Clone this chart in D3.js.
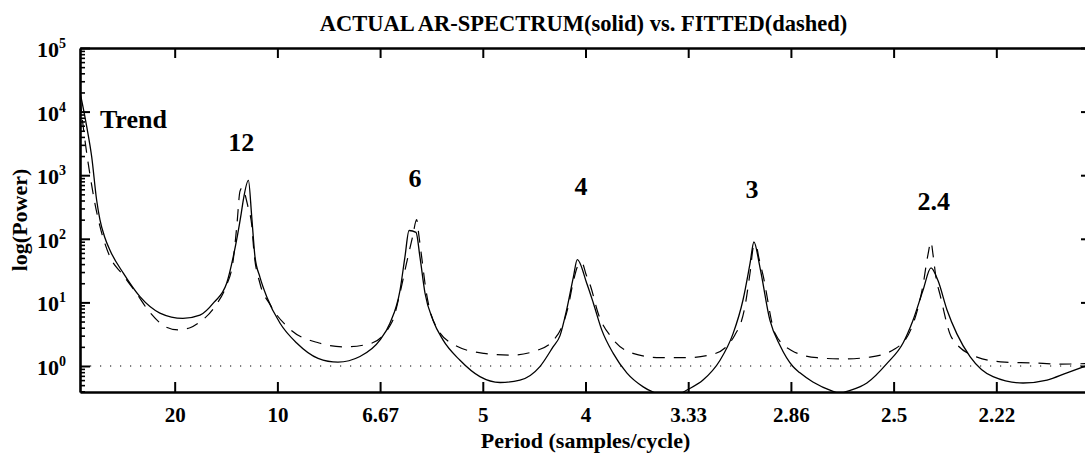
<!DOCTYPE html>
<html>
<head>
<meta charset="utf-8">
<script src="https://cdn.jsdelivr.net/npm/d3@7"></script>
<style>
body { margin: 0; background: #fff; }
svg { display: block; }
text { font-family: "Liberation Serif", "Times New Roman", serif; font-weight: bold; fill: #000; }
</style>
</head>
<body>
<script>
// actual AR spectrum (solid), frequency in cycles/sample
var freqActual = [0.0039, 0.0049, 0.0072, 0.0096, 0.0120, 0.0136, 0.0159, 0.0185, 0.0250, 0.0331,
    0.0428, 0.0540, 0.0623, 0.0691, 0.0753, 0.0785, 0.0824, 0.0834, 0.0859, 0.0875,
    0.0891, 0.0915, 0.0948, 0.1013, 0.1094, 0.1198, 0.1295, 0.1402, 0.1500, 0.1548,
    0.1597, 0.1621, 0.1641, 0.1675, 0.1694, 0.1719, 0.1758, 0.1806, 0.1889, 0.1986,
    0.2084, 0.2181, 0.2278, 0.2342, 0.2376, 0.2408, 0.2441, 0.2460, 0.2506, 0.2538,
    0.2579, 0.2635, 0.2701, 0.2781, 0.2863, 0.2926, 0.2994, 0.3072, 0.3155, 0.3218,
    0.3267, 0.3301, 0.3320, 0.3349, 0.3398, 0.3447, 0.3510, 0.3544, 0.3607, 0.3705,
    0.3739, 0.3773, 0.3870, 0.3968, 0.4046, 0.4094, 0.4143, 0.4182, 0.4216, 0.4260,
    0.4308, 0.4372, 0.4484, 0.4630, 0.4747, 0.4844, 0.4961];
var powerActual = [20000, 14100, 5750, 1950, 407, 200, 107, 66, 28.8, 12.3,
    6.8, 5.6, 6.3, 10, 20, 52, 251, 407, 832, 224,
    52, 25, 12.3, 4.7, 2.3, 1.32, 1.15, 1.41, 2.57, 4.7,
    15.5, 52, 135, 126, 52, 13.8, 5.2, 2.57, 1.23, 0.68,
    0.55, 0.60, 0.98, 2.0, 3.0, 7.6, 25, 47, 20, 9.8,
    3.7, 1.58, 0.78, 0.47, 0.355, 0.33, 0.42, 0.60, 1.23, 3.2,
    11, 41, 89, 36, 5.2, 2.1, 0.98, 0.78, 0.56, 0.40,
    0.37, 0.40, 0.54, 1.1, 2.3, 5.2, 15.5, 35, 22, 7.6,
    3.2, 1.41, 0.68, 0.54, 0.60, 0.78, 1.07];

// fitted spectrum (dashed)
var freqFitted = [0.0039, 0.0063, 0.0088, 0.0112, 0.0136, 0.0185, 0.0244, 0.0308, 0.0380, 0.0458,
    0.0516, 0.0575, 0.0614, 0.0701, 0.0750, 0.0784, 0.0803, 0.0818, 0.0828, 0.0842,
    0.0857, 0.0875, 0.0886, 0.0915, 0.0964, 0.1061, 0.1203, 0.1329, 0.1451, 0.1558,
    0.1597, 0.1629, 0.1658, 0.1678, 0.1689, 0.1703, 0.1723, 0.1772, 0.1874, 0.2006,
    0.2137, 0.2269, 0.2342, 0.2386, 0.2415, 0.2439, 0.2464, 0.2483, 0.2502, 0.2527,
    0.2561, 0.2629, 0.2731, 0.2863, 0.2994, 0.3126, 0.3228, 0.3276, 0.3301, 0.3320,
    0.3330, 0.3344, 0.3364, 0.3422, 0.3505, 0.3627, 0.3754, 0.3885, 0.4007, 0.4089,
    0.4143, 0.4167, 0.4182, 0.4192, 0.4206, 0.4226, 0.4284, 0.4406, 0.4542, 0.4673,
    0.4815, 0.4961];
var powerFitted = [15800, 3550, 1000, 355, 158, 52, 28, 14.8, 6.9, 4.1,
    3.7, 4.0, 4.7, 9.1, 17.8, 44, 166, 562, 631, 501,
    316, 166, 62, 20, 9.3, 3.8, 2.3, 2.0, 2.24, 4.9,
    14.1, 41.7, 107, 200, 112, 50, 15.8, 4.2, 2.04, 1.58,
    1.48, 1.78, 2.5, 4.2, 8.3, 20, 38, 41.7, 28, 17,
    6.8, 2.75, 1.58, 1.35, 1.35, 1.55, 3.1, 8.5, 29, 79,
    79, 50, 27, 3.3, 1.74, 1.35, 1.29, 1.38, 1.86, 4.1,
    18.6, 56, 89, 56, 25, 13.2, 2.75, 1.38, 1.15, 1.12,
    1.07, 1.10];

var xTickFreqs = [0.05, 0.1, 0.15, 0.2, 0.25, 0.3, 0.35, 0.4, 0.45];
var xTickLabels = ["20", "10", "6.67", "5", "4", "3.33", "2.86", "2.5", "2.22"];
var yTickExponents = [0, 1, 2, 3, 4, 5];

var peakNames = ["Trend", "12", "6", "4", "3", "2.4"];
var peakNameFreqs = [0.0136, 0.0824, 0.1670, 0.2478, 0.3310, 0.4196];
var peakNamePowers = [5500, 2400, 650, 490, 437, 283];

var W = 1085, H = 453,
    pL = 80, pR = 1091, pT = 48, pB = 392;

var svg = d3.select("body")
    .append("svg")
    .attr("width", W)
    .attr("height", H);

svg.append("rect").attr("width", W).attr("height", H).attr("fill", "#fff");

var x = d3.scaleLinear().domain([1 / 256, 127 / 256]).range([pL, pR]);
var y = d3.scaleLog().domain([0.39, 1e5]).range([pB, pT]);

svg.append("clipPath").attr("id", "plotclip")
    .append("rect")
    .attr("x", pL).attr("y", pT)
    .attr("width", pR - pL).attr("height", pB - pT);

var plot = svg.append("g").attr("clip-path", "url(#plotclip)");

// unit power reference
plot.append("line")
    .attr("x1", pL).attr("x2", pR)
    .attr("y1", y(1)).attr("y2", y(1))
    .attr("stroke", "#000")
    .attr("stroke-width", 1.2)
    .attr("stroke-dasharray", "1.2,8.8");

var line = d3.line()
    .x(function (d) { return x(d[0]); })
    .y(function (d) { return y(d[1]); })
    .curve(d3.curveMonotoneX);

plot.append("path")
    .datum(d3.zip(freqFitted, powerFitted))
    .attr("d", line)
    .attr("fill", "none")
    .attr("stroke", "#000")
    .attr("stroke-width", 1.2)
    .attr("stroke-dasharray", "12,9");

plot.append("path")
    .datum(d3.zip(freqActual, powerActual))
    .attr("d", line)
    .attr("fill", "none")
    .attr("stroke", "#000")
    .attr("stroke-width", 1.3);

// minor log ticks
var minor = [];
for (var e = -1; e < 5; e++) {
    for (var m = 2; m <= 9; m++) {
        var v = m * Math.pow(10, e);
        if (v >= 0.39 && v < 1e5) minor.push(v);
    }
}
var major = yTickExponents.map(function (k) { return Math.pow(10, k); });

function styleAxis(g) {
    g.select(".domain").attr("stroke", "#000").attr("stroke-width", 2.6);
    g.selectAll(".tick line").attr("stroke", "#000").attr("stroke-width", 2);
}

svg.append("g")
    .attr("transform", "translate(0," + pB + ")")
    .call(d3.axisBottom(x).tickValues(xTickFreqs).tickSize(-10).tickSizeOuter(0)
        .tickPadding(15)
        .tickFormat(function (d, i) { return xTickLabels[i]; }))
    .call(styleAxis)
    .selectAll("text")
    .attr("font-size", 21)
    .attr("font-family", "Liberation Serif")
    .attr("font-weight", "bold");

svg.append("g")
    .attr("transform", "translate(0," + pT + ")")
    .call(d3.axisTop(x).tickValues(xTickFreqs).tickSize(-10).tickSizeOuter(0).tickFormat(""))
    .call(styleAxis);

svg.append("g")
    .attr("transform", "translate(" + pL + ",0)")
    .call(d3.axisLeft(y).tickValues(major).tickSize(-10).tickSizeOuter(0).tickFormat(""))
    .call(styleAxis);
svg.append("g")
    .attr("transform", "translate(" + pL + ",0)")
    .call(d3.axisLeft(y).tickValues(minor).tickSize(-5).tickSizeOuter(0).tickFormat(""))
    .call(function (g) {
        g.select(".domain").remove();
        g.selectAll(".tick line").attr("stroke", "#000").attr("stroke-width", 1.6);
    });

svg.append("g")
    .attr("transform", "translate(" + pR + ",0)")
    .call(d3.axisRight(y).tickValues(major).tickSize(-10).tickSizeOuter(0).tickFormat(""))
    .call(styleAxis);
svg.append("g")
    .attr("transform", "translate(" + pR + ",0)")
    .call(d3.axisRight(y).tickValues(minor).tickSize(-5).tickSizeOuter(0).tickFormat(""))
    .call(function (g) {
        g.select(".domain").remove();
        g.selectAll(".tick line").attr("stroke", "#000").attr("stroke-width", 1.6);
    });

// y tick labels 10^k
var ylab = svg.append("g").selectAll("text")
    .data(yTickExponents)
    .enter()
    .append("text")
    .attr("x", 66)
    .attr("y", function (d) { return y(Math.pow(10, d)) + 9; })
    .attr("text-anchor", "end")
    .attr("font-size", 22);
ylab.append("tspan").text("10");
ylab.append("tspan")
    .attr("dy", -9)
    .attr("font-size", 14)
    .text(function (d) { return d; });

// peak annotations
svg.append("g").selectAll("text")
    .data(peakNames)
    .enter()
    .append("text")
    .attr("x", function (d, i) { return x(peakNameFreqs[i]); })
    .attr("y", function (d, i) { return y(peakNamePowers[i]); })
    .attr("text-anchor", function (d, i) { return i === 0 ? "start" : "middle"; })
    .attr("font-size", 26)
    .text(function (d) { return d; });

svg.append("text")
    .attr("x", (pL + pR) / 2 - 2)
    .attr("y", 31)
    .attr("text-anchor", "middle")
    .attr("font-size", 22.5)
    .text("ACTUAL AR-SPECTRUM(solid) vs. FITTED(dashed)");

svg.append("text")
    .attr("x", (pL + pR) / 2)
    .attr("y", 448)
    .attr("text-anchor", "middle")
    .attr("font-size", 22)
    .text("Period (samples/cycle)");

svg.append("text")
    .attr("transform", "translate(27," + (pT + pB) / 2 + ") rotate(-90)")
    .attr("text-anchor", "middle")
    .attr("font-size", 22)
    .text("log(Power)");
</script>
</body>
</html>
